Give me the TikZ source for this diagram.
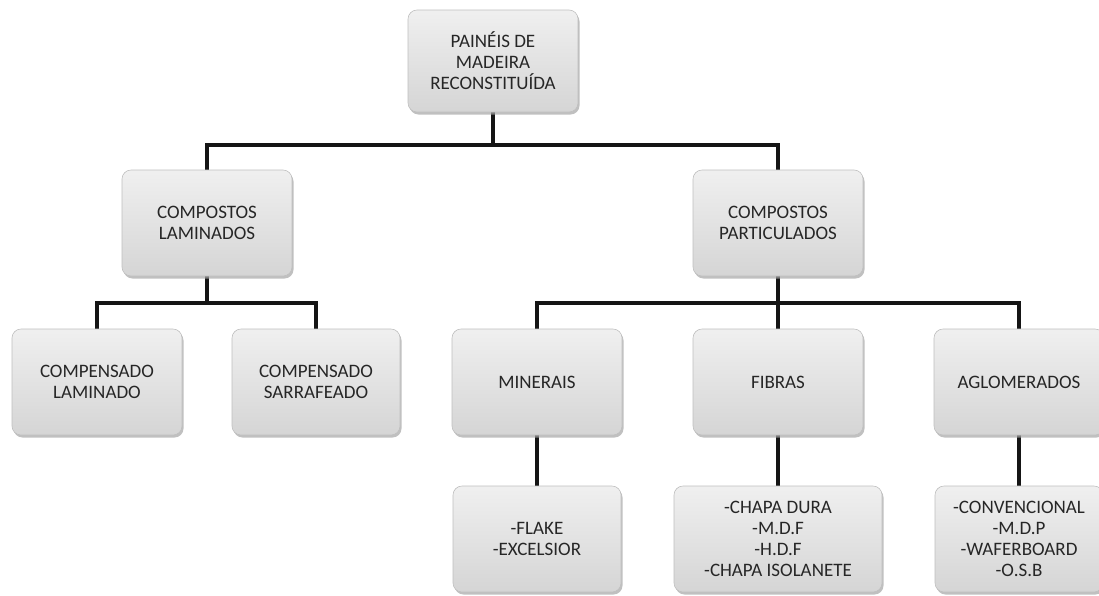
\documentclass[tikz,border=0pt]{standalone}
\usepackage{fontspec}
\setmainfont{Carlito}
\usetikzlibrary{shadows}
\pgfdeclarelayer{back}
\pgfdeclarelayer{lines}
\pgfsetlayers{back,lines,main}
\definecolor{txt}{HTML}{262626}
\definecolor{conncol}{HTML}{151515}
\tikzset{
  box/.style={rectangle, rounded corners=9pt, minimum width=170pt, minimum height=106pt,
    top color=gray!12, bottom color=gray!33, draw=gray!50, line width=0.6pt,
    drop shadow={shadow xshift=1.5pt, shadow yshift=-2.5pt, fill=gray!70, opacity=0.7},
    align=center, text=txt, font=\fontsize{19}{21}\selectfont, inner sep=2pt},
  conn/.style={draw=conncol, line width=4pt}
}
\begin{document}
\begin{tikzpicture}[x=1pt,y=-1pt]
\useasboundingbox (0,0) rectangle (1099,595);
\begin{pgfonlayer}{back}
\fill[white] (0,0) rectangle (1099,595);
\end{pgfonlayer}
\begin{scope}[every node/.style={box}]
\path
 node[minimum height=102pt] (top) at (493,61) {PAINÉIS DE\\MADEIRA\\RECONSTITUÍDA}
 node (cl) at (207,223) {COMPOSTOS\\LAMINADOS}
 node (cp) at (778,223) {COMPOSTOS\\PARTICULADOS}
 node (clam) at (97,382) {COMPENSADO\\LAMINADO}
 node[minimum width=168pt] (csar) at (316,382) {COMPENSADO\\SARRAFEADO}
 node (min) at (537,382) {MINERAIS}
 node (fib) at (778,382) {FIBRAS}
 node (agl) at (1019,382) {AGLOMERADOS}
 node[minimum width=168pt] (minc) at (537,539) {-FLAKE\\-EXCELSIOR}
 node[minimum width=208pt] (fibc) at (778,539) {-CHAPA DURA\\-M.D.F\\-H.D.F\\-CHAPA ISOLANETE}
 node[minimum width=168pt] (aglc) at (1019,539) {-CONVENCIONAL\\-M.D.P\\-WAFERBOARD\\-O.S.B};
\end{scope}
\begin{pgfonlayer}{lines}
\coordinate (bus1) at (493,145);
\coordinate (bus2) at (207,303);
\coordinate (bus3) at (778,303);
\draw[conn] (top.south) -- (bus1);
\draw[conn] (cl.north) |- (bus1) -| (cp.north);
\draw[conn] (cl.south) -- (bus2);
\draw[conn] (clam.north) |- (bus2) -| (csar.north);
\draw[conn] (cp.south) -- (bus3);
\draw[conn] (min.north) |- (bus3) -| (agl.north);
\draw[conn] (bus3) -- (fib.north);
\draw[conn] (min.south) -- (minc.north);
\draw[conn] (fib.south) -- (fibc.north);
\draw[conn] (agl.south) -- (aglc.north);
\end{pgfonlayer}
\end{tikzpicture}
\end{document}
